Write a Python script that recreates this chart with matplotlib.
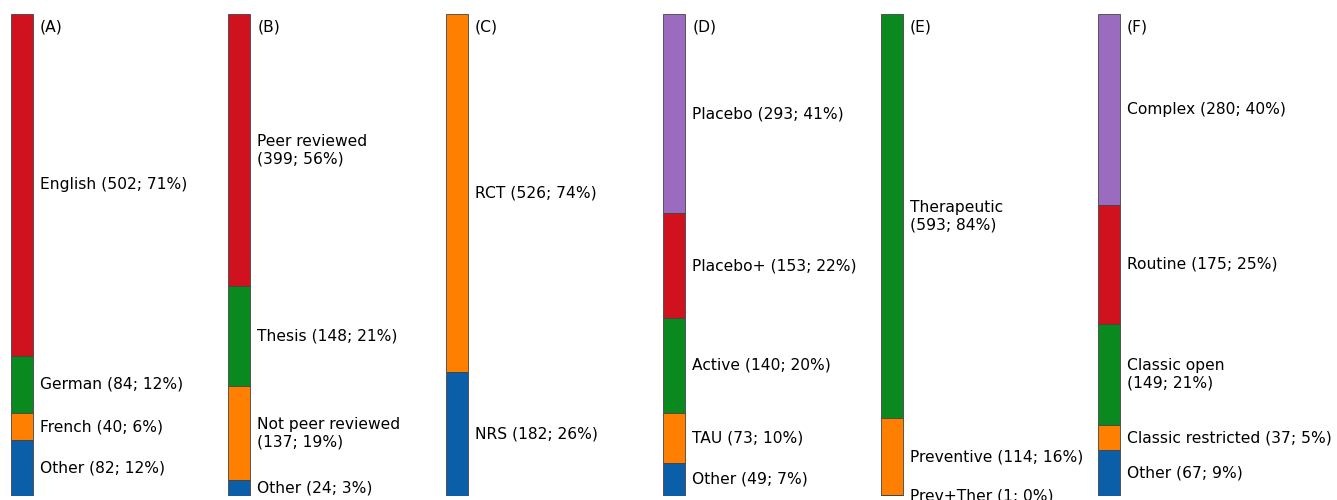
import numpy as np
import matplotlib
matplotlib.use("Agg")
from matplotlib import pyplot as plt

# one column per study characteristic, categories listed top to bottom
panels = ["(A)", "(B)", "(C)", "(D)", "(E)", "(F)"]

lang_names = ["English", "German", "French", "Other"]
lang_counts = [502, 84, 40, 82]

pub_names = ["Peer reviewed\n", "Thesis", "Not peer reviewed\n", "Other"]
pub_counts = [399, 148, 137, 24]

design_names = ["RCT", "NRS"]
design_counts = [526, 182]

control_names = ["Placebo", "Placebo+", "Active", "TAU", "Other"]
control_counts = [293, 153, 140, 73, 49]

aim_names = ["Therapeutic\n", "Preventive", "Prev+Ther"]
aim_counts = [593, 114, 1]

remedy_names = ["Complex", "Routine", "Classic open\n", "Classic restricted", "Other"]
remedy_counts = [280, 175, 149, 37, 67]

all_names = [lang_names, pub_names, design_names, control_names, aim_names, remedy_names]
all_counts = [lang_counts, pub_counts, design_counts, control_counts, aim_counts, remedy_counts]

# colours are assigned from the bottom segment upwards
stack_colors = ["#0a5fa8", "#ff7f00", "#0a8a1e", "#d0121f", "#9b6bbf"]

W, H = 1337, 500
fig = plt.figure(figsize=(W / 100, H / 100), dpi=100)
ax = fig.add_axes([0, 4 / H, 1, 482 / H])

spacing = 217.4
bar_w = 22 / spacing
ax.set_xlim(-22 / spacing, (W - 22) / spacing)

fs = 11.2
for i, (names, counts) in enumerate(zip(all_names, all_counts)):
    counts = np.array(counts)
    total = counts.sum()
    tops = np.concatenate([[0], np.cumsum(counts)[:-1]])
    n = len(counts)
    for j in range(n):
        color = stack_colors[n - 1 - j]
        ax.bar(i, counts[j], bottom=tops[j], width=bar_w, color=color,
               edgecolor="#444444", linewidth=0.6)
        pct = int(round(100 * counts[j] / total))
        name = names[j]
        sep = "" if name.endswith("\n") else " "
        label = "%s%s(%d; %d%%)" % (name, sep, counts[j], pct)
        ax.text(i + bar_w / 2 + 7 / spacing, tops[j] + counts[j] / 2, label,
                va="center", ha="left", fontsize=fs, clip_on=False)
    ax.text(i + bar_w / 2 + 7 / spacing, 13 * total / 482, panels[i],
            va="center", ha="left", fontsize=fs)

ax.set_ylim(708, 0)
ax.set_axis_off()

fig.savefig("out.png", dpi=100)
